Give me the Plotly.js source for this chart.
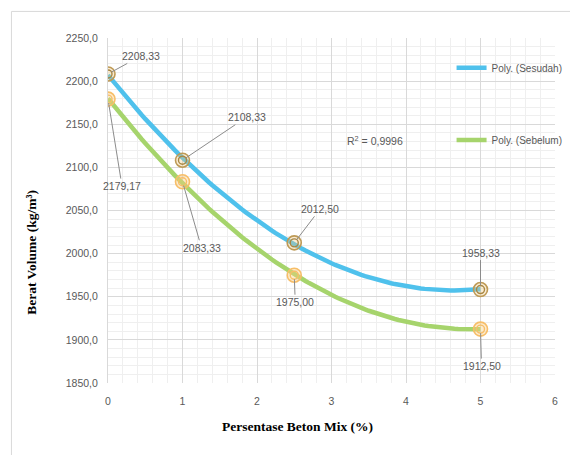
<!DOCTYPE html>
<html>
<head>
<meta charset="utf-8">
<script src="https://cdn.plot.ly/plotly-3.0.1.min.js"></script>
<style>html,body{margin:0;padding:0;background:#fff;}#chart{width:570px;height:455px;}</style>
</head>
<body>
<div id="chart"></div>
<script>
// ---- data ----
const xPercent = [0, 1, 2.5, 5];
const sesudah = [2208.33, 2108.33, 2012.50, 1958.33];
const sebelum = [2179.17, 2083.33, 1975.00, 1912.50];
const seriesNames = ['Poly. (Sesudah)', 'Poly. (Sebelum)'];
const r2Text = 'R<sup>2</sup> = 0,9996';
const xTitle = 'Persentase Beton Mix (%)';
const yTitle = 'Berat Volume (kg/m³)';

// label offsets (styling)
const offSesudah = [[33, -18], [64, -43], [26, -34], [0, -37]];
const offSebelum = [[14, 87], [19, 66], [1, 27], [1, 37]];

// quadratic least-squares trendline (like spreadsheet "Poly." trendline)
function polyFit2(xs, ys) {
  let n = xs.length, s1 = 0, s2 = 0, s3 = 0, s4 = 0, t0 = 0, t1 = 0, t2 = 0;
  for (let i = 0; i < n; i++) {
    const x = xs[i], y = ys[i];
    s1 += x; s2 += x * x; s3 += x * x * x; s4 += x * x * x * x;
    t0 += y; t1 += x * y; t2 += x * x * y;
  }
  const M = [[n, s1, s2, t0], [s1, s2, s3, t1], [s2, s3, s4, t2]];
  for (let c = 0; c < 3; c++) {
    for (let r = c + 1; r < 3; r++) {
      const f = M[r][c] / M[c][c];
      for (let k = c; k < 4; k++) M[r][k] -= f * M[c][k];
    }
  }
  const sol = [0, 0, 0];
  for (let r = 2; r >= 0; r--) {
    let s = M[r][3];
    for (let k = r + 1; k < 3; k++) s -= M[r][k] * sol[k];
    sol[r] = s / M[r][r];
  }
  return sol;
}
function trend(xs, ys) {
  const [a, b, c] = polyFit2(xs, ys);
  const tx = [], ty = [];
  const x0 = Math.min(...xs), x1 = Math.max(...xs);
  for (let i = 0; i <= 100; i++) {
    const x = x0 + (x1 - x0) * i / 100;
    tx.push(x); ty.push(a + b * x + c * x * x);
  }
  return {tx, ty};
}

const blue = '#4FC1EC';
const green = '#A6D46C';
const tS = trend(xPercent, sesudah);
const tB = trend(xPercent, sebelum);

const traces = [
  {x: tS.tx, y: tS.ty, mode: 'lines', name: seriesNames[0], line: {color: blue, width: 4.5}, legend: 'legend', hoverinfo: 'skip'},
  {x: tB.tx, y: tB.ty, mode: 'lines', name: seriesNames[1], line: {color: green, width: 4.5}, legend: 'legend2', hoverinfo: 'skip'},
  {x: xPercent, y: sesudah, mode: 'markers', showlegend: false,
   marker: {symbol: 'circle', size: 14, color: 'rgba(240,200,130,0.35)', line: {color: '#BE9A55', width: 1.6}}},
  {x: xPercent, y: sesudah, mode: 'markers', showlegend: false,
   marker: {symbol: 'circle-open', size: 8, color: '#A88744', line: {color: '#A88744', width: 1.4}}},
  {x: xPercent, y: sebelum, mode: 'markers', showlegend: false,
   marker: {symbol: 'circle', size: 14, color: 'rgba(250,205,130,0.4)', line: {color: '#F7BE68', width: 1.6}}},
  {x: xPercent, y: sebelum, mode: 'markers', showlegend: false,
   marker: {symbol: 'circle-open', size: 8, color: '#F7BE68', line: {color: '#F7BE68', width: 1.4}}}
];

const fmt = v => v.toFixed(2).replace('.', ',');
const labelFont = {family: 'Liberation Sans, Arial, sans-serif', size: 10.5, color: '#595959'};
const titleFont = {family: 'Liberation Serif, Times New Roman, serif', size: 13.5, color: '#000', weight: 'bold'};
const annotations = [];
xPercent.forEach((x, i) => {
  annotations.push({x: x, y: sesudah[i], xref: 'x', yref: 'y', text: fmt(sesudah[i]), showarrow: true,
    arrowhead: 0, arrowwidth: 1, arrowcolor: '#8c8c8c', ax: offSesudah[i][0], ay: offSesudah[i][1],
    standoff: 4, font: labelFont});
  annotations.push({x: x, y: sebelum[i], xref: 'x', yref: 'y', text: fmt(sebelum[i]), showarrow: true,
    arrowhead: 0, arrowwidth: 1, arrowcolor: '#8c8c8c', ax: offSebelum[i][0], ay: offSebelum[i][1],
    standoff: 4, font: labelFont});
});
annotations.push({xref: 'paper', yref: 'paper', x: 0.597, y: 0.728, text: r2Text, showarrow: false, font: labelFont});
// axis titles (placed as in the reference, slightly off-centre)
annotations.push({xref: 'paper', yref: 'paper', x: 0.424, y: -0.1257, xanchor: 'center', yanchor: 'middle',
  text: xTitle, showarrow: false, font: titleFont});
annotations.push({xref: 'paper', yref: 'paper', x: -0.1729, y: 0.3795, xanchor: 'center', yanchor: 'middle',
  text: yTitle, textangle: -90, showarrow: false, font: titleFont});

const tickFont = {family: 'Liberation Sans, Arial, sans-serif', size: 10.5, color: '#595959'};
const legendFont = {family: 'Liberation Sans, Arial, sans-serif', size: 10, color: '#595959'};

const layout = {
  width: 570, height: 455,
  margin: {l: 108, r: 15, t: 38, b: 72, autoexpand: false},
  paper_bgcolor: '#fff', plot_bgcolor: '#fff',
  separators: ',.',
  showlegend: true,
  xaxis: {
    range: [0, 6], dtick: 1, tick0: 0, showgrid: true, gridcolor: '#d9d9d9', gridwidth: 1,
    minor: {dtick: 0.2, showgrid: true, gridcolor: '#efefef', gridwidth: 1},
    zeroline: false, showline: false, ticks: '', ticklabelstandoff: 10,
    tickfont: tickFont, fixedrange: true, automargin: false
  },
  yaxis: {
    range: [1850, 2250], dtick: 50, tick0: 1850, tickformat: '.1f', showgrid: true, gridcolor: '#d9d9d9', gridwidth: 1,
    minor: {dtick: 10, showgrid: true, gridcolor: '#efefef', gridwidth: 1},
    zeroline: false, showline: true, linecolor: '#d9d9d9', ticks: '', ticklabelstandoff: 7,
    tickfont: tickFont, fixedrange: true, automargin: false
  },
  legend: {x: 0.7686, y: 0.914, xanchor: 'left', yanchor: 'middle', bgcolor: 'rgba(0,0,0,0)', font: legendFont, itemwidth: 30},
  legend2: {x: 0.7686, y: 0.704, xanchor: 'left', yanchor: 'middle', bgcolor: 'rgba(0,0,0,0)', font: legendFont, itemwidth: 30},
  annotations: annotations,
  shapes: [
    {type: 'rect', xref: 'paper', yref: 'paper', x0: -0.216, x1: 1.2, y0: -0.4, y1: 1.077,
     line: {color: '#d9d9d9', width: 1}, fillcolor: 'rgba(0,0,0,0)', layer: 'below'}
  ]
};

Plotly.newPlot('chart', traces, layout, {displayModeBar: false, staticPlot: true});
</script>
</body>
</html>
